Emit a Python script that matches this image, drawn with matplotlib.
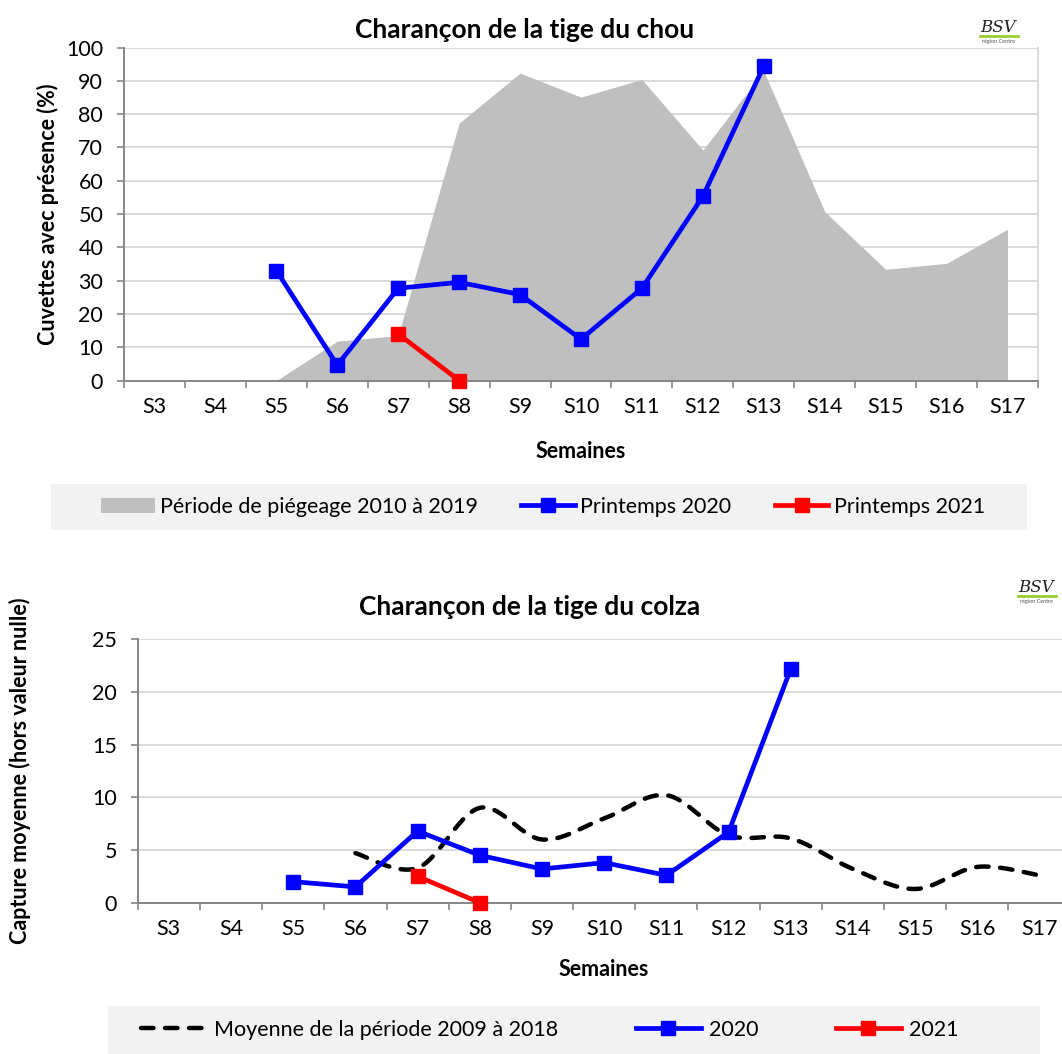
import numpy as np
import matplotlib
matplotlib.use('Agg')
import matplotlib.pyplot as plt
from matplotlib.patches import Rectangle, Patch
from matplotlib.lines import Line2D

plt.rcParams['font.family'] = ['Lato', 'DejaVu Sans']

semaines = ['S3', 'S4', 'S5', 'S6', 'S7', 'S8', 'S9', 'S10', 'S11', 'S12', 'S13', 'S14', 'S15', 'S16', 'S17']

# graphique 1 : charançon de la tige du chou (% cuvettes avec présence)
chou_periode_sem = ['S5', 'S6', 'S7', 'S8', 'S9', 'S10', 'S11', 'S12', 'S13', 'S14', 'S15', 'S16', 'S17']
chou_periode = [0, 11.8, 13.5, 77.3, 92.3, 85.1, 90.4, 69.2, 92.9, 50.7, 33.4, 35.2, 45.4]
chou_2020_sem = ['S5', 'S6', 'S7', 'S8', 'S9', 'S10', 'S11', 'S12', 'S13']
chou_2020 = [33, 4.6, 27.7, 29.5, 25.8, 12.4, 27.7, 55.3, 94.4]
chou_2021_sem = ['S7', 'S8']
chou_2021 = [14, 0]

# graphique 2 : charançon de la tige du colza (capture moyenne)
colza_moy_sem = ['S6', 'S7', 'S8', 'S9', 'S10', 'S11', 'S12', 'S13', 'S14', 'S15', 'S16', 'S17']
colza_moy = [4.7, 3.3, 9.0, 6.0, 8.0, 10.2, 6.4, 6.1, 3.2, 1.3, 3.4, 2.6]
colza_2020_sem = ['S5', 'S6', 'S7', 'S8', 'S9', 'S10', 'S11', 'S12', 'S13']
colza_2020 = [2.0, 1.5, 6.8, 4.5, 3.2, 3.8, 2.6, 6.7, 22.2]
colza_2021_sem = ['S7', 'S8']
colza_2021 = [2.5, 0]

W, H = 1062, 1054
GRIS_AXE = '#868686'
GRILLE = '#d9d9d9'
FS = 15.5


def pos(sem):
    return np.array([semaines.index(s) for s in sem], dtype=float)


def lisse(x, y, n=30):
    # courbe lissée type Excel (Catmull-Rom / Bezier)
    x = np.asarray(x, float)
    y = np.asarray(y, float)
    px, py = [], []
    for i in range(len(x) - 1):
        x0, y0 = (x[i - 1], y[i - 1]) if i > 0 else (x[i], y[i])
        x3, y3 = (x[i + 2], y[i + 2]) if i + 2 < len(x) else (x[i + 1], y[i + 1])
        c1x = x[i] + (x[i + 1] - x0) / 6
        c1y = y[i] + (y[i + 1] - y0) / 6
        c2x = x[i + 1] - (x3 - x[i]) / 6
        c2y = y[i + 1] - (y3 - y[i]) / 6
        t = np.linspace(0, 1, n)
        a, b, c, d = (1 - t) ** 3, 3 * (1 - t) ** 2 * t, 3 * (1 - t) * t ** 2, t ** 3
        px.extend(a * x[i] + b * c1x + c * c2x + d * x[i + 1])
        py.extend(a * y[i] + b * c1y + c * c2y + d * y[i + 1])
    return np.array(px), np.array(py)


def axe(left, top, right, bottom):
    return fig.add_axes([left / W, 1 - bottom / H, (right - left) / W, (bottom - top) / H])


def style(ax, ymax, ystep):
    ax.set_xlim(-0.5, len(semaines) - 0.5)
    ax.set_ylim(0, ymax)
    ax.set_yticks(np.arange(0, ymax + 0.1, ystep))
    ax.set_xticks(range(len(semaines)))
    ax.set_xticklabels(semaines)
    ax.set_xticks(np.arange(-0.5, len(semaines)), minor=True)
    ax.tick_params(axis='x', which='major', length=0, pad=12, labelsize=FS)
    ax.tick_params(axis='x', which='minor', length=5, width=1.2, color=GRIS_AXE, direction='out')
    ax.tick_params(axis='y', length=5, width=1.2, color=GRIS_AXE, pad=10, labelsize=FS)
    ax.grid(axis='y', color=GRILLE, lw=1.4)
    ax.set_axisbelow(True)
    for s in ['left', 'bottom']:
        ax.spines[s].set_color(GRIS_AXE)
        ax.spines[s].set_linewidth(1.4)
    ax.spines['top'].set_visible(False)
    ax.spines['right'].set_color(GRILLE)
    ax.spines['right'].set_linewidth(1.4)


def logo(x, y):
    fig.text(x / W, 1 - y / H, 'BSV', fontsize=12, style='italic', family='DejaVu Serif', color='#222222',
             ha='center', va='center')
    fig.add_artist(Line2D([(x - 18) / W, (x + 20) / W], [1 - (y + 8) / H] * 2, color='#9acd32', lw=2))
    fig.text(x / W, 1 - (y + 14) / H, 'région Centre', fontsize=4, color='#555555', ha='center', va='center')


fig = plt.figure(figsize=(W / 100, H / 100), dpi=100)

# ---- graphique du haut
ax1 = axe(124, 47.5, 1038, 380.5)
style(ax1, 100, 10)
ax1.fill_between(pos(chou_periode_sem), chou_periode, 0, color='#bfbfbf', lw=0, zorder=1)
ax1.plot(pos(chou_2020_sem), chou_2020, color='#0000ff', lw=3.4, marker='s', ms=10.5, zorder=3, clip_on=False)
ax1.plot(pos(chou_2021_sem), chou_2021, color='#ff0000', lw=3.4, marker='s', ms=10.5, zorder=3, clip_on=False)
fig.text(525 / W, 1 - 30 / H, 'Charançon de la tige du chou', fontsize=19, fontweight='bold', ha='center', va='center')
fig.text(48 / W, 1 - 214 / H, 'Cuvettes avec présence (%)', fontsize=15.5, fontweight='bold', rotation=90,
         ha='center', va='center')
fig.text(581 / W, 1 - 452 / H, 'Semaines', fontsize=15.5, fontweight='bold', ha='center', va='center')
logo(998, 28)

fig.add_artist(Rectangle((51 / W, 1 - 530 / H), (1027 - 51) / W, 46 / H, transform=fig.transFigure,
                         facecolor='#f2f2f2', edgecolor='none', zorder=0))
h1 = [Patch(facecolor='#bfbfbf', edgecolor='none'),
      Line2D([], [], color='#0000ff', lw=3.4, marker='s', ms=10),
      Line2D([], [], color='#ff0000', lw=3.4, marker='s', ms=10)]
fig.legend(h1, ['Période de piégeage 2010 à 2019', 'Printemps 2020', 'Printemps 2021'],
           loc='center', bbox_to_anchor=(543 / W, 1 - 507 / H), ncol=3, frameon=False, fontsize=FS,
           handlelength=2.5, handletextpad=0.25, columnspacing=2.0)

# ---- graphique du bas
ax2 = axe(137.7, 639.3, 137.7 + 15 * 62.2, 902.7)
style(ax2, 25, 5)
xs, ys = lisse(pos(colza_moy_sem), colza_moy)
ax2.plot(xs, ys, color='black', lw=3.2, dashes=(2.8, 2.6), dash_capstyle='round', zorder=2)
ax2.plot(pos(colza_2020_sem), colza_2020, color='#0000ff', lw=3.4, marker='s', ms=10.5, zorder=3, clip_on=False)
ax2.plot(pos(colza_2021_sem), colza_2021, color='#ff0000', lw=3.4, marker='s', ms=10.5, zorder=3, clip_on=False)
fig.text(530 / W, 1 - 607 / H, 'Charançon de la tige du colza', fontsize=19, fontweight='bold', ha='center', va='center')
fig.text(20 / W, 1 - 771 / H, 'Capture moyenne (hors valeur nulle)', fontsize=15.5, fontweight='bold', rotation=90,
         ha='center', va='center')
fig.text(604 / W, 1 - 970 / H, 'Semaines', fontsize=15.5, fontweight='bold', ha='center', va='center')
logo(1036, 588)

fig.add_artist(Rectangle((108 / W, 1 - 1054 / H), (1040 - 108) / W, 48 / H, transform=fig.transFigure,
                         facecolor='#f2f2f2', edgecolor='none', zorder=0))
h2 = [Line2D([], [], color='black', lw=3.2, dashes=(2.8, 2.6), dash_capstyle='round'),
      Line2D([], [], color='#0000ff', lw=3.4, marker='s', ms=10),
      Line2D([], [], color='#ff0000', lw=3.4, marker='s', ms=10)]
fig.legend(h2, ['Moyenne de la période 2009 à 2018', '2020', '2021'],
           loc='center', bbox_to_anchor=(550 / W, 1 - 1030 / H), ncol=3, frameon=False, fontsize=FS,
           handlelength=3.0, handletextpad=0.4, columnspacing=3.6)

fig.savefig('out.png', dpi=100)
